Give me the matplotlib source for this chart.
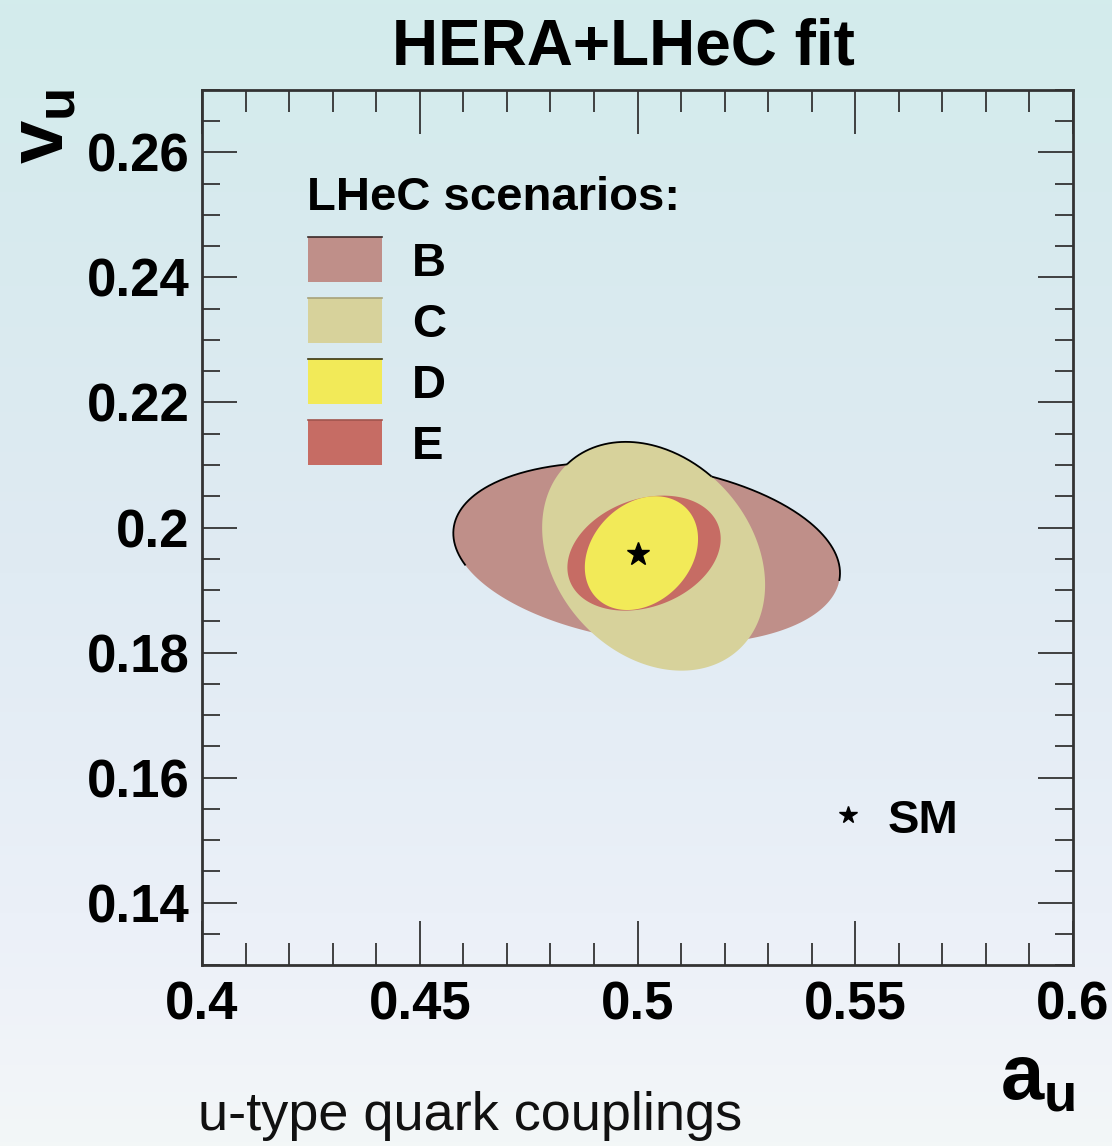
import numpy as np
import matplotlib
matplotlib.use("Agg")
import matplotlib.pyplot as plt
from matplotlib.colors import LinearSegmentedColormap
from matplotlib.patches import Rectangle

plt.rcParams['font.family'] = ['Liberation Sans', 'DejaVu Sans']
plt.rcParams['mathtext.fontset'] = 'custom'
plt.rcParams['mathtext.rm'] = 'Liberation Sans'
plt.rcParams['mathtext.bf'] = 'Liberation Sans:bold'

# ---------------------------------------------------------------------
# data: fitted couplings per LHeC scenario (centre, 1-sigma widths, corr.)
# ---------------------------------------------------------------------
scenarios = ['B', 'C', 'D', 'E']
a_centre = [0.5021, 0.5037, 0.5009, 0.5015]
v_centre = [0.1959, 0.1954, 0.1959, 0.1959]
a_sigma = [0.0444, 0.0256, 0.0130, 0.0176]
v_sigma = [0.0145, 0.0183, 0.0091, 0.0092]
corr = [-0.22, -0.25, 0.25, 0.25]
colors = ['#bf8f89', '#d7d29b', '#f2ea58', '#c66c64']
edge_colors = ['#3a2a28', '#a8a27a', '#3a3510', '#a0554e']
draw_order = [0, 1, 3, 2]          # B, C, E, D

sm_a = 0.500
sm_v = 0.1958

x_ticks = [0.4, 0.45, 0.5, 0.55, 0.6]
x_ticklabels = ['0.4', '0.45', '0.5', '0.55', '0.6']
y_ticks = [0.14, 0.16, 0.18, 0.2, 0.22, 0.24, 0.26]
y_ticklabels = ['0.14', '0.16', '0.18', '0.2', '0.22', '0.24', '0.26']


def contour(i, t):
    a = a_centre[i] + a_sigma[i] * np.cos(t)
    v = v_centre[i] + v_sigma[i] * (corr[i] * np.cos(t) + np.sqrt(1 - corr[i] ** 2) * np.sin(t))
    return a, v


def inside(i, a, v):
    x = (a - a_centre[i]) / a_sigma[i]
    y = (v - v_centre[i]) / v_sigma[i]
    r = corr[i]
    return (x * x - 2 * r * x * y + y * y) / (1 - r * r) < 1.0


fig = plt.figure(figsize=(11.12, 11.46), dpi=100)

# background gradient
bg = fig.add_axes([0, 0, 1, 1], zorder=-10)
bg_cmap = LinearSegmentedColormap.from_list('bg', [
    (0.0, '#d3ecec'), (0.25, '#d9eaef'), (0.5, '#e0ebf3'),
    (0.8, '#ebf0f8'), (0.93, '#f1f4f9'), (1.0, '#f3f7f7')])
bg.imshow(np.linspace(0, 1, 256)[:, None], aspect='auto', cmap=bg_cmap,
          extent=[0, 1, 0, 1], origin='upper')
bg.set_axis_off()

ax = fig.add_axes([0.1817, 0.1579, 0.7832, 0.7636])
ax.set_facecolor('none')

t = np.linspace(0, 2 * np.pi, 400)
for i in draw_order:
    a, v = contour(i, t)
    ax.fill(a, v, color=colors[i], lw=0, zorder=2)

# black outline on the upper edge of B and C
tb = np.linspace(-0.08, np.pi + 0.35, 300)
a, v = contour(0, tb)
v = np.where(inside(1, a, v), np.nan, v)
ax.plot(a, v, color='black', lw=1.3, zorder=3)
tc = np.linspace(0.3, np.pi - 0.2, 200)
a, v = contour(1, tc)
v = np.where(inside(0, a, v), np.nan, v)
ax.plot(a, v, color='black', lw=1.3, zorder=3)

ax.plot([sm_a], [sm_v], marker='*', color='black', markersize=17, ls='none', zorder=4)

ax.set_xlim(0.4, 0.6)
ax.set_ylim(0.13, 0.27)
ax.set_xticks(x_ticks)
ax.set_xticklabels(x_ticklabels)
ax.set_yticks(y_ticks)
ax.set_yticklabels(y_ticklabels)
ax.set_xticks(np.arange(0.40, 0.6001, 0.01), minor=True)
ax.set_yticks(np.arange(0.13, 0.2701, 0.005), minor=True)
ax.tick_params(which='both', direction='in', top=True, right=True,
               width=1.3, color='#333333', labelsize=38)
ax.tick_params(axis='x', which='major', length=32, pad=11)
ax.tick_params(axis='x', which='minor', length=16)
ax.tick_params(axis='y', which='major', length=25, pad=9)
ax.tick_params(axis='y', which='minor', length=13)
for lab in ax.get_xticklabels() + ax.get_yticklabels():
    lab.set_fontweight('bold')
for sp in ax.spines.values():
    sp.set_linewidth(2.0)
    sp.set_color('#333333')

# legend
ax.text(0.1206, 0.863, 'LHeC scenarios:', transform=ax.transAxes,
        fontsize=34, fontweight='bold', va='baseline', ha='left')
for k, name in enumerate(scenarios):
    y0 = 0.7806 - 0.0697 * k
    ax.add_patch(Rectangle((0.1217, y0), 0.085, 0.0514, transform=ax.transAxes,
                           facecolor=colors[k], edgecolor='none', zorder=5))
    ax.plot([0.1217, 0.2067], [y0 + 0.0514, y0 + 0.0514], color=edge_colors[k],
            lw=1.2, transform=ax.transAxes, zorder=6)
    ax.text(0.241, y0 + 0.0205, name, transform=ax.transAxes, fontsize=34,
            fontweight='bold', va='center', ha='left')

ax.plot([0.7417], [0.1714], marker='*', color='black', markersize=13,
        transform=ax.transAxes, ls='none')
ax.text(0.7876, 0.1650, 'SM', transform=ax.transAxes, fontsize=34,
        fontweight='bold', va='center', ha='left')

fig.text(0.561, 0.9433, 'HERA+LHeC fit', fontsize=46, fontweight='bold',
         ha='center', va='baseline')
fig.text(0.039, 1 - 88 / 1146, r'$\mathbf{v}_{\mathbf{u}}$', fontsize=56,
         rotation=90, ha='center', va='top')
fig.text(0.967, 0.0401, r'$\mathbf{a}_{\mathbf{u}}$', fontsize=56,
         ha='right', va='baseline')
fig.text(0.178, 0.014, 'u-type quark couplings', fontsize=39, color='#111111',
         ha='left', va='baseline')

fig.savefig('out.png', dpi=100)
